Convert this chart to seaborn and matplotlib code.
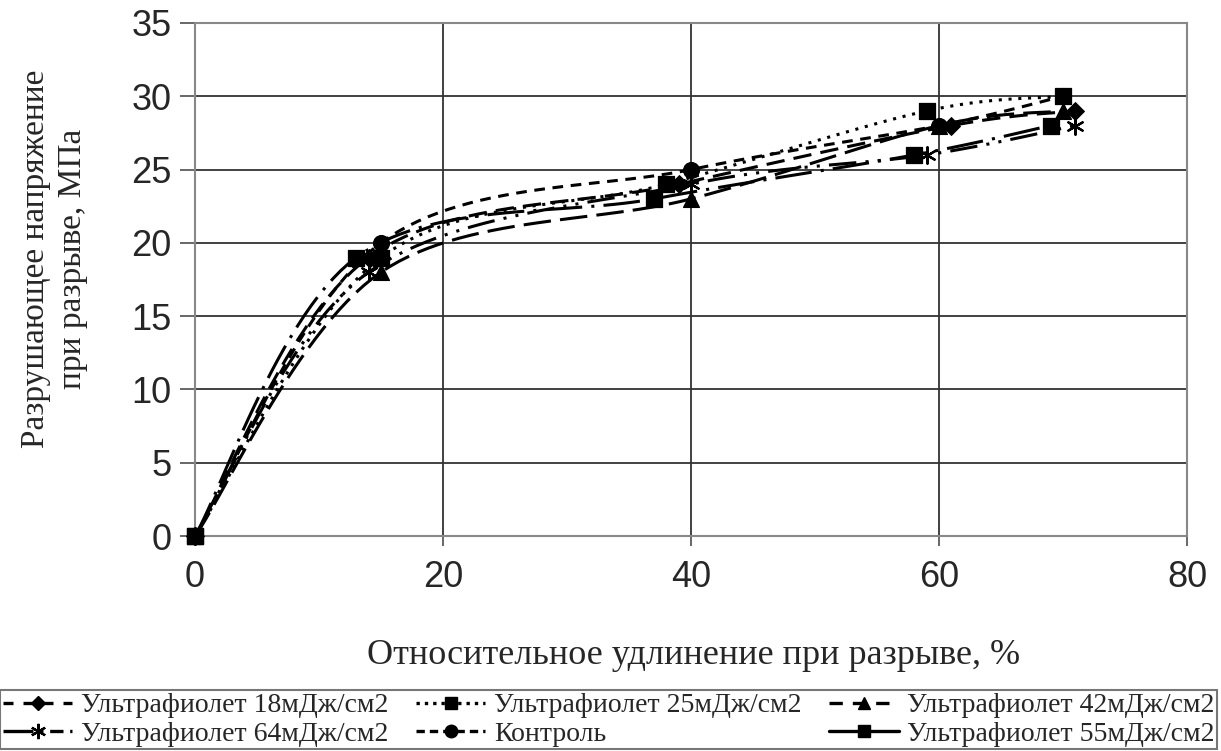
import numpy as np
import matplotlib
matplotlib.use("Agg")
import matplotlib.pyplot as plt
import seaborn as sns
import pandas as pd
from matplotlib.lines import Line2D

# ---- data ----
labels = ["Ультрафиолет 18мДж/см2", "Ультрафиолет 25мДж/см2", "Ультрафиолет 42мДж/см2",
          "Ультрафиолет 64мДж/см2", "Контроль", "Ультрафиолет 55мДж/см2"]
x_18 = [0, 14, 39, 61, 71];  y_18 = [0, 19, 24, 28, 29]
x_25 = [0, 15, 38, 59, 70];  y_25 = [0, 19, 24, 29, 30]
x_42 = [0, 15, 40, 60, 70];  y_42 = [0, 18, 23, 28, 29]
x_64 = [0, 14, 40, 59, 71];  y_64 = [0, 18, 24, 26, 28]
x_c  = [0, 15, 40, 60, 70];  y_c  = [0, 20, 25, 28, 30]
x_55 = [0, 13, 37, 58, 69];  y_55 = [0, 19, 23, 26, 28]
x_ticks = [0, 20, 40, 60, 80]
y_ticks = [0, 5, 10, 15, 20, 25, 30, 35]

xs = [x_18, x_25, x_42, x_64, x_c, x_55]
ys = [y_18, y_25, y_42, y_64, y_c, y_55]
markers = ["D", "s", "^", "x", "o", "s"]
msizes = [8, 10, 10, 10, 10, 10]
styles = [(0, (6, 3)), (0, (1, 2.2)), (0, (9, 3)), (0, (9, 3, 1, 3, 1, 3)), (0, (3.5, 2.5)), (0, (12, 3, 1, 3))]
legend_styles = [(0, (3, 3)), (0, (1, 1.5)), (0, (4, 3)), (0, (9, 2, 1, 2, 4, 2)), (0, (2.5, 1.5)), "-"]

def smooth(px, py, n=30):
    # Catmull-Rom style smoothing for drawing (like Excel smoothed lines)
    px = np.asarray(px, float); py = np.asarray(py, float)
    P = np.column_stack([px, py])
    P = np.vstack([P[0], P, P[-1]])
    out = []
    for i in range(1, len(P) - 2):
        p0, p1, p2, p3 = P[i-1], P[i], P[i+1], P[i+2]
        t = np.linspace(0, 1, n)[:, None]
        c1 = p1 + (p2 - p0) / 6
        c2 = p2 - (p3 - p1) / 6
        b = ((1-t)**3)*p1 + 3*((1-t)**2)*t*c1 + 3*(1-t)*t**2*c2 + t**3*p2
        out.append(b if i == 1 else b[1:])
    B = np.vstack(out)
    return B[:, 0], B[:, 1]

sns.set_theme(style="white")
plt.rcParams["font.family"] = ["Liberation Sans", "DejaVu Sans"]
serif = ["Liberation Serif", "DejaVu Serif"]

fig = plt.figure(figsize=(12.21, 7.51), dpi=100)
ax = fig.add_axes([195/1221, 1 - 536/751, (1187-195)/1221, (536-23)/751])

for i in range(6):
    sx, sy = smooth(xs[i], ys[i])
    df = pd.DataFrame({"x": sx, "y": sy})
    sns.lineplot(data=df, x="x", y="y", ax=ax, sort=False, color="black",
                 linewidth=2.2, linestyle=styles[i], estimator=None)
    dm = pd.DataFrame({"x": xs[i], "y": ys[i]})
    if markers[i] == "x":
        ax.scatter(dm["x"], dm["y"], marker=(6, 2, 0), s=140, color="black", linewidths=1.6,
                   zorder=3, clip_on=False)
    else:
        sns.scatterplot(data=dm, x="x", y="y", ax=ax, marker=markers[i], s=msizes[i]**2 * 1.3,
                        color="black", edgecolor="black", zorder=3, clip_on=False)

ax.set_xlim(0, 80)
ax.set_ylim(0, 35)
ax.set_xticks(x_ticks)
ax.set_yticks(y_ticks)
ax.grid(True, color="#333333", linewidth=1.3)
for s in ax.spines.values():
    s.set_color("#888888")
    s.set_linewidth(1.5)
ax.tick_params(axis="both", labelsize=26, direction="out", color="#555555",
               bottom=True, left=True)
ax.tick_params(axis="x", length=7, pad=10)
ax.tick_params(axis="y", length=11, pad=6)
ax.set_xlabel("Относительное удлинение при разрыве, %", fontsize=26,
              family=serif, va="center")
ax.xaxis.set_label_coords(0.503, -0.232)
ax.set_ylabel("Разрушающее напряжение\nпри разрыве, МПа", fontsize=24,
              family=serif, linespacing=1.25, va="center")
ax.yaxis.set_label_coords(-0.142, 0.54)

handles = []
for i in range(6):
    m = markers[i]
    if m == "x":
        h = Line2D([], [], color="black", linestyle=legend_styles[i], linewidth=2.4,
                   marker=(6, 2, 0), markersize=11, markeredgewidth=1.6)
    else:
        h = Line2D([], [], color="black", linestyle=legend_styles[i], linewidth=2.4,
                   marker=m, markersize=msizes[i] - 1, markeredgecolor="black")
    handles.append(h)
order = [0, 3, 1, 4, 2, 5]
leg = fig.legend([handles[k] for k in order], [labels[k] for k in order],
                 loc="lower left", bbox_to_anchor=(0.0, 0.002, 0.997, 0.08), mode="expand",
                 ncol=3, frameon=True, fancybox=False, edgecolor="#555555",
                 prop={"family": serif, "size": 20},
                 handlelength=2.5, handletextpad=0.3, columnspacing=0.5,
                 borderpad=0.1, labelspacing=0.1, borderaxespad=0.0)
leg.get_frame().set_linewidth(1.5)

fig.savefig("out.png", dpi=100)
